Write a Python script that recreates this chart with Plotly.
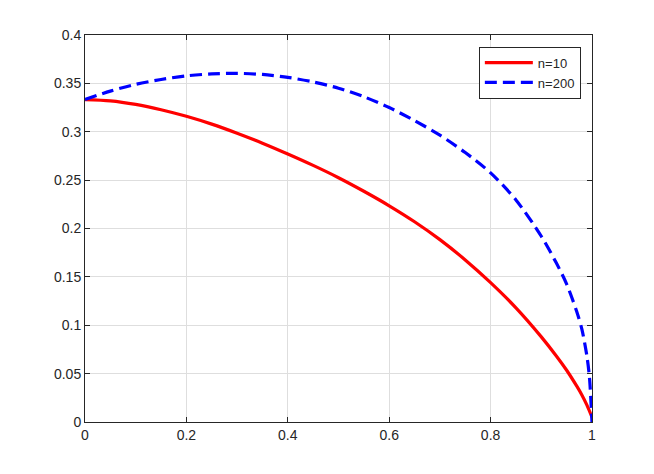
import plotly.graph_objects as go

# values
x_n10 = [0, 0.05, 0.1, 0.15, 0.2, 0.25, 0.3, 0.35, 0.4, 0.45, 0.5, 0.55, 0.6, 0.65,
         0.7, 0.75, 0.8, 0.85, 0.9, 0.93, 0.95, 0.97, 0.98, 0.99, 1.0]
y_n10 = [0.3333, 0.3320, 0.3283, 0.3228, 0.316, 0.3079, 0.2985, 0.2882, 0.277, 0.2652,
         0.2525, 0.2385, 0.2235, 0.207, 0.1885, 0.1675, 0.144, 0.118, 0.088, 0.068,
         0.0535, 0.037, 0.028, 0.0175, 0.005]

x_n200 = [0, 0.05, 0.1, 0.15, 0.2, 0.25, 0.3, 0.35, 0.4, 0.45, 0.5, 0.55, 0.6, 0.65,
          0.7, 0.75, 0.8, 0.85, 0.9, 0.93, 0.95, 0.97, 0.98, 0.99, 0.995, 1.0]
y_n200 = [0.3333, 0.342, 0.349, 0.354, 0.3578, 0.3598, 0.3604, 0.3592, 0.3562, 0.3515,
          0.345, 0.3362, 0.325, 0.3115, 0.2965, 0.2785, 0.2575, 0.2295, 0.192, 0.164,
          0.1425, 0.114, 0.096, 0.068, 0.046, 0.0]

x_ticks = [0, 0.2, 0.4, 0.6, 0.8, 1]
y_ticks = [0, 0.05, 0.1, 0.15, 0.2, 0.25, 0.3, 0.35, 0.4]

font = "Liberation Sans, Arial, sans-serif"

fig = go.Figure()
fig.add_trace(go.Scatter(x=x_n10, y=y_n10, mode="lines", name="n=10",
                         line=dict(color="#ff0000", width=3.2, shape="spline", smoothing=0.8)))
fig.add_trace(go.Scatter(x=x_n200, y=y_n200, mode="lines", name="n=200",
                         line=dict(color="#0000ff", width=3.2, shape="spline", smoothing=0.8,
                                   dash="12px,6px")))

axis_style = dict(
    showgrid=True, gridcolor="#dedede", gridwidth=1,
    showline=True, linecolor="#262626", linewidth=1, mirror="ticks",
    ticks="inside", ticklen=5, tickcolor="#262626",
    zeroline=False, tickfont=dict(family=font, size=14, color="#262626"),
)

fig.update_xaxes(range=[0, 1], tickvals=x_ticks, ticktext=[f"{v:g}" for v in x_ticks], **axis_style)
fig.update_yaxes(range=[0, 0.4], tickvals=y_ticks, ticktext=[f"{v:g}" for v in y_ticks], **axis_style)

fig.update_layout(
    width=654, height=474,
    margin=dict(l=77, r=70, t=27, b=60),
    plot_bgcolor="white", paper_bgcolor="white",
    showlegend=True,
    legend=dict(x=0.978, y=0.97, xanchor="right", yanchor="top",
                bgcolor="white", bordercolor="#262626", borderwidth=1,
                font=dict(family=font, size=13, color="#262626"),
                tracegroupgap=0, itemwidth=48),
    hovermode=False,
)

fig.write_html("out.html")
